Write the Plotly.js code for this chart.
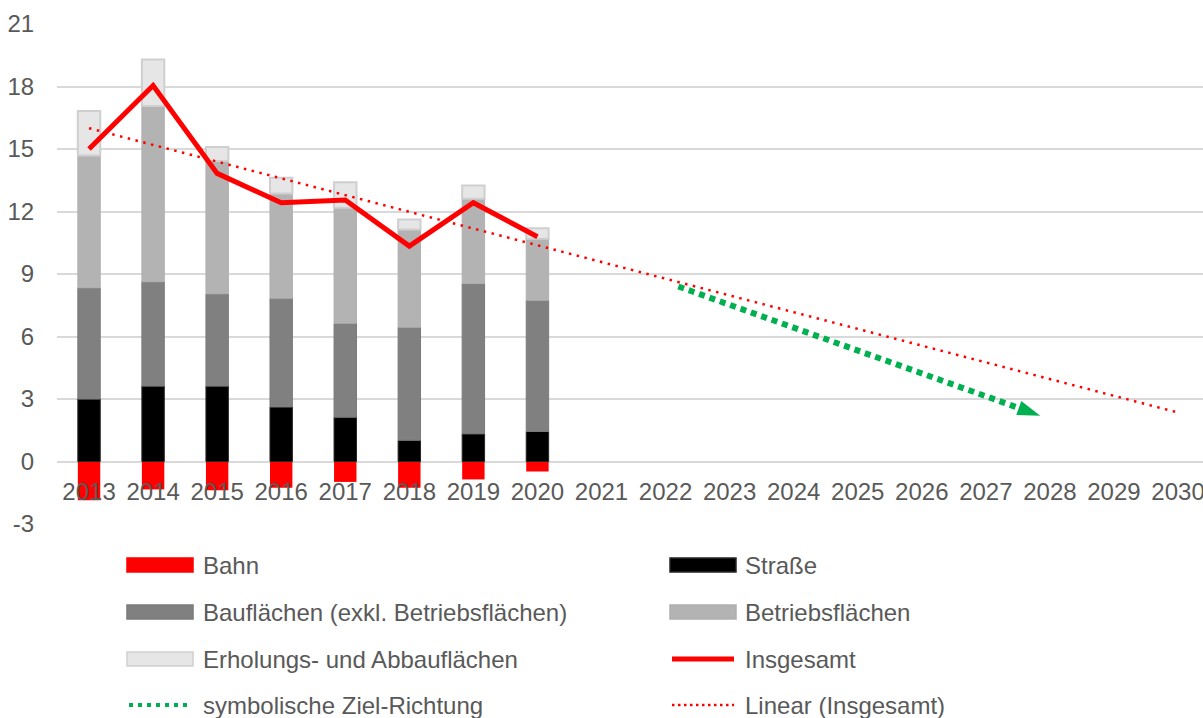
<!DOCTYPE html>
<html>
<head>
<meta charset="utf-8">
<script src="https://cdn.plot.ly/plotly-3.0.1.min.js"></script>
<style>
  html, body { margin: 0; padding: 0; overflow: hidden; background: #fff; }
  #chart { width: 1203px; height: 718px; }
</style>
</head>
<body>
<div id="chart"></div>
<script>
// years on the axis, data only for 2013-2020
var years = [2013, 2014, 2015, 2016, 2017, 2018, 2019, 2020];
var bahn = [-1.86, -1.34, -1.38, -1.26, -0.98, -1.26, -0.86, -0.48];
var strasse = [3.0, 3.62, 3.62, 2.62, 2.13, 1.02, 1.33, 1.44];
var bauflaechen = [5.34, 5.01, 4.43, 5.22, 4.51, 5.43, 7.22, 6.30];
var betriebsflaechen = [6.35, 8.43, 6.37, 5.03, 5.54, 4.69, 4.06, 2.95];
var erholung = [2.13, 2.24, 0.68, 0.75, 1.23, 0.48, 0.64, 0.51];
var insgesamt = [15.0, 18.05, 13.83, 12.42, 12.55, 10.34, 12.42, 10.79];

// Linear (Insgesamt)
var trendX = [2013, 2030];
var trendY = [16.0, 2.35];

// symbolische Ziel-Richtung (green arrow)
var zielX = [2022.2, 2027.85];
var zielY = [8.4, 2.2];

var yTicks = [-3, 0, 3, 6, 9, 12, 15, 18, 21];

var FONT = 'Liberation Sans, Arial, sans-serif';
var GREY_TXT = '#595959';

function barTrace(name, y, fill, edge, w) {
	return {
		x: years, y: y, name: name, type: 'bar',
		marker: {color: fill, line: {color: edge, width: w}},
		hoverinfo: 'y+name'
	};
}

var data = [
	barTrace('Bahn', bahn, '#FF0000', '#FF0000', 0),
	barTrace('Straße', strasse, '#000000', '#262626', 1),
	barTrace('Bauflächen (exkl. Betriebsflächen)', bauflaechen, '#808080', '#7a7a7a', 1),
	barTrace('Betriebsflächen', betriebsflaechen, '#B3B3B3', '#b0b0b0', 1),
	barTrace('Erholungs- und Abbauflächen', erholung, '#E6E6E6', '#CFCFCF', 2),
	{
		x: trendX, y: trendY, name: 'Linear (Insgesamt)', type: 'scatter', mode: 'lines',
		line: {color: '#FF0000', width: 2.5, dash: '2.5px,5.5px'}
	},
	{
		x: zielX, y: zielY, name: 'symbolische Ziel-Richtung', type: 'scatter', mode: 'lines+markers',
		line: {color: '#00B050', width: 6, dash: '6px,5px'},
		marker: {symbol: 'arrow', angleref: 'previous', size: [0, 24], color: '#00B050',
			opacity: 1, line: {width: 0}}
	},
	{
		x: years, y: insgesamt, name: 'Insgesamt', type: 'scatter', mode: 'lines',
		line: {color: '#FF0000', width: 5}
	}
];

// plot area in pixels, used to place the hand-made legend
var L = 57, T = 24, W = 1146, H = 500;
function px(x) { return (x - L) / W; }
function py(y) { return (T + H - y) / H; }

var legendItems = [
	{name: 'Bahn', kind: 'box', fill: '#FF0000', edge: '#FF0000'},
	{name: 'Straße', kind: 'box', fill: '#000000', edge: '#262626'},
	{name: 'Bauflächen (exkl. Betriebsflächen)', kind: 'box', fill: '#808080', edge: '#7a7a7a'},
	{name: 'Betriebsflächen', kind: 'box', fill: '#B3B3B3', edge: '#b0b0b0'},
	{name: 'Erholungs- und Abbauflächen', kind: 'box', fill: '#E6E6E6', edge: '#CFCFCF'},
	{name: 'Insgesamt', kind: 'line', color: '#FF0000', width: 5, dash: 'solid'},
	{name: 'symbolische Ziel-Richtung', kind: 'line', color: '#00B050', width: 4, dash: '4px,5px'},
	{name: 'Linear (Insgesamt)', kind: 'line', color: '#FF0000', width: 2.5, dash: '2.5px,3.5px'}
];
var colSym = [127, 670], colTxt = [201, 743];
var rowY = [565, 612, 659, 705];

var shapes = [], annotations = [];
legendItems.forEach(function (it, i) {
	var c = i % 2, r = Math.floor(i / 2);
	var x0 = colSym[c], x1 = colSym[c] + 66, yc = rowY[r];
	if (it.kind === 'box') {
		shapes.push({type: 'rect', xref: 'paper', yref: 'paper',
			x0: px(x0), x1: px(x1), y0: py(yc - 7), y1: py(yc + 7),
			fillcolor: it.fill, line: {color: it.edge, width: 1.5}});
	} else {
		shapes.push({type: 'line', xref: 'paper', yref: 'paper',
			x0: px(x0 + 2), x1: px(x1 - 2), y0: py(yc), y1: py(yc),
			line: {color: it.color, width: it.width, dash: it.dash}});
	}
	annotations.push({xref: 'paper', yref: 'paper', x: px(colTxt[c]), y: py(yc),
		xanchor: 'left', yanchor: 'middle', showarrow: false, text: it.name,
		font: {family: FONT, size: 24, color: GREY_TXT}});
});

var layout = {
	width: 1203, height: 718,
	margin: {l: L, r: 1203 - L - W, t: T, b: 718 - T - H, pad: 0},
	paper_bgcolor: '#ffffff', plot_bgcolor: '#ffffff',
	font: {family: FONT, size: 24, color: GREY_TXT},
	barmode: 'relative', bargap: 0.65,
	showlegend: false,
	xaxis: {
		range: [2012.5, 2030.39], dtick: 1, tick0: 2013,
		anchor: 'free', position: py(462),
		showgrid: false, zeroline: false, showline: false,
		ticks: 'outside', ticklen: 8, tickcolor: 'rgba(0,0,0,0)',
		ticklabeloverflow: 'allow',
		tickfont: {family: FONT, size: 24, color: GREY_TXT}
	},
	yaxis: {
		range: [-3, 21], tickvals: yTicks, ticktext: yTicks.map(String),
		showgrid: true, gridcolor: '#D9D9D9', gridwidth: 2,
		zeroline: true, zerolinecolor: '#D9D9D9', zerolinewidth: 2,
		showline: false,
		ticks: 'outside', ticklen: 17, tickcolor: 'rgba(0,0,0,0)',
		tickfont: {family: FONT, size: 24, color: GREY_TXT}
	},
	shapes: shapes,
	annotations: annotations
};

Plotly.newPlot('chart', data, layout, {displayModeBar: false, staticPlot: true});
</script>
</body>
</html>
